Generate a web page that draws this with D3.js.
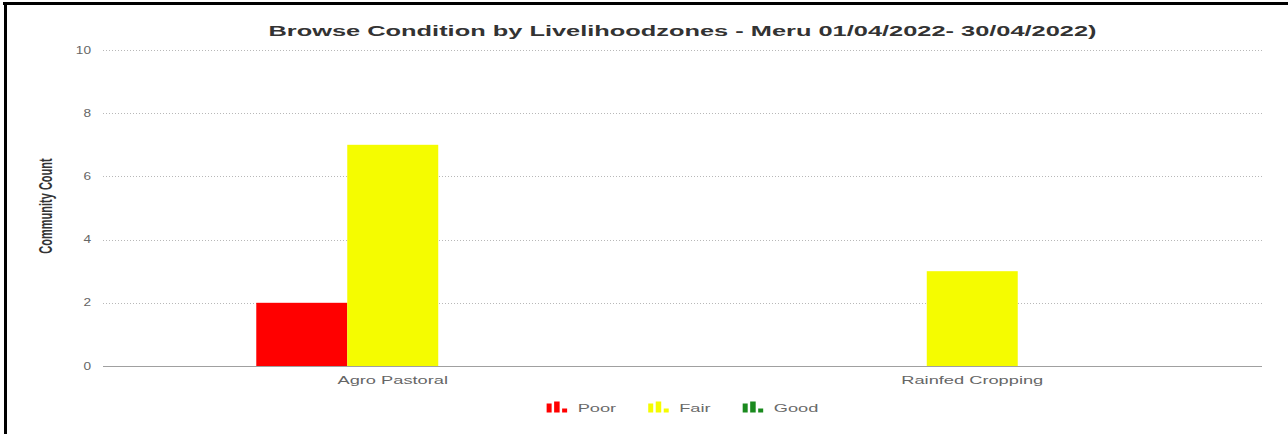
<!DOCTYPE html>
<html>
<head>
<meta charset="utf-8">
<script src="https://cdn.jsdelivr.net/npm/d3@7/dist/d3.min.js"></script>
<style>
  html, body { margin: 0; padding: 0; background: #fff; }
  svg { display: block; font-family: "Liberation Sans", Arial, Helvetica, sans-serif; }
</style>
</head>
<body>
<svg id="chart" width="1288" height="434"></svg>
<script>
// Livelihood zones and community counts per browse condition
const categories = ["Agro Pastoral", "Rainfed Cropping"];
const seriesNames = ["Poor", "Fair", "Good"];
const poorValues = [2, 0];
const fairValues = [7, 3];
const goodValues = [0, 0];
const yTicks = [0, 2, 4, 6, 8, 10];
const titleText = "Browse Condition by Livelihoodzones - Meru 01/04/2022- 30/04/2022)";
const yAxisTitle = "Community Count";

const colors = { Poor: "#ff0000", Fair: "#f5fc00", Good: "#1a8a1e" };
const valuesBySeries = { Poor: poorValues, Fair: fairValues, Good: goodValues };

// The rendering is stretched horizontally; text glyphs share that stretch.
const SX = 1.66;

const svg = d3.select("#chart");
const plot = { left: 103, right: 1262, top: 50, bottom: 366 };

// frame lines (top and left edge)
svg.append("rect").attr("x", 3).attr("y", 2).attr("width", 1285).attr("height", 3).attr("fill", "#000");
svg.append("rect").attr("x", 4).attr("y", 2).attr("width", 3).attr("height", 432).attr("fill", "#000");

const y = d3.scaleLinear().domain([0, 10]).range([plot.bottom, plot.top]);
const x0 = d3.scaleBand().domain(categories).range([plot.left, plot.right]).paddingInner(0).paddingOuter(0);
const groupPad = 0.2645;
const x1 = d3.scaleBand().domain(seriesNames)
  .range([x0.bandwidth() * groupPad, x0.bandwidth() * (1 - groupPad)]).padding(0);

// stretched text helper
function stretchedText(parent, x, yPos, str, opts) {
  const g = parent.append("g")
    .attr("transform", `translate(${x},${yPos}) scale(${opts.sx || SX},1)` + (opts.rotate ? ` rotate(${opts.rotate})` : ""));
  const t = g.append("text")
    .attr("x", 0).attr("y", 0)
    .attr("text-anchor", opts.anchor || "middle")
    .attr("font-size", opts.size)
    .attr("font-weight", opts.weight || "normal")
    .attr("fill", opts.fill || "#666")
    .text(str);
  return t;
}

// gridlines
const grid = svg.append("g");
grid.selectAll("line.grid")
  .data(yTicks.filter(d => d !== 0))
  .join("line")
  .attr("x1", plot.left).attr("x2", plot.right)
  .attr("y1", d => Math.round(y(d)) + 0.5).attr("y2", d => Math.round(y(d)) + 0.5)
  .attr("stroke", "#b8b8b8").attr("stroke-width", 1).attr("stroke-dasharray", "1,2");

// y tick labels
yTicks.forEach(t => {
  stretchedText(svg, 91, y(t) + 3.6, String(t), { size: 10.5, anchor: "end", sx: 1.3, fill: "#666" });
});

// bars
const groups = svg.append("g").selectAll("g")
  .data(categories)
  .join("g")
  .attr("transform", d => `translate(${x0(d)},0)`);

groups.selectAll("rect")
  .data((c, i) => seriesNames.map(s => ({ s, v: valuesBySeries[s][i] })))
  .join("rect")
  .attr("x", d => x1(d.s))
  .attr("width", x1.bandwidth())
  .attr("y", d => y(d.v))
  .attr("height", d => y(0) - y(d.v))
  .attr("fill", d => colors[d.s]);

// baseline
svg.append("line")
  .attr("x1", plot.left).attr("x2", plot.right)
  .attr("y1", y(0) + 0.5).attr("y2", y(0) + 0.5)
  .attr("stroke", "#a0a0a0").attr("stroke-width", 1);

// category labels
categories.forEach(c => {
  stretchedText(svg, x0(c) + x0.bandwidth() / 2, 384, c, { size: 11, fill: "#666" });
});

// title
stretchedText(svg, (plot.left + plot.right) / 2, 36, titleText, { size: 15.3, weight: "bold", fill: "#333" });

// y axis title
stretchedText(svg, 52, 206, yAxisTitle, { size: 11, weight: "bold", fill: "#333", rotate: -90 });

// legend
const legend = svg.append("g");
const iconW = 21, textGap = 10, itemGap = 32;
const items = seriesNames.map(s => {
  const tmp = svg.append("text").attr("font-size", 11).text(s);
  const w = tmp.node().getComputedTextLength() * SX;
  tmp.remove();
  return { s, w };
});
const totalW = d3.sum(items, d => iconW + textGap + d.w) + itemGap * (items.length - 1);
let lx = (plot.left + plot.right) / 2 - totalW / 2;
const legBottom = 412.5;
items.forEach(it => {
  const g = legend.append("g").attr("transform", `translate(${lx},${legBottom})`);
  const c = colors[it.s];
  g.append("rect").attr("x", 0).attr("y", -9).attr("width", 5).attr("height", 9).attr("fill", c);
  g.append("rect").attr("x", 7.5).attr("y", -11).attr("width", 5.5).attr("height", 11).attr("fill", c);
  g.append("rect").attr("x", 15.5).attr("y", -4).attr("width", 5).attr("height", 4).attr("fill", c);
  stretchedText(legend, lx + iconW + textGap, 411.5, it.s, { size: 11, anchor: "start", fill: "#6a6a6a" });
  lx += iconW + textGap + it.w + itemGap;
});
</script>
</body>
</html>
